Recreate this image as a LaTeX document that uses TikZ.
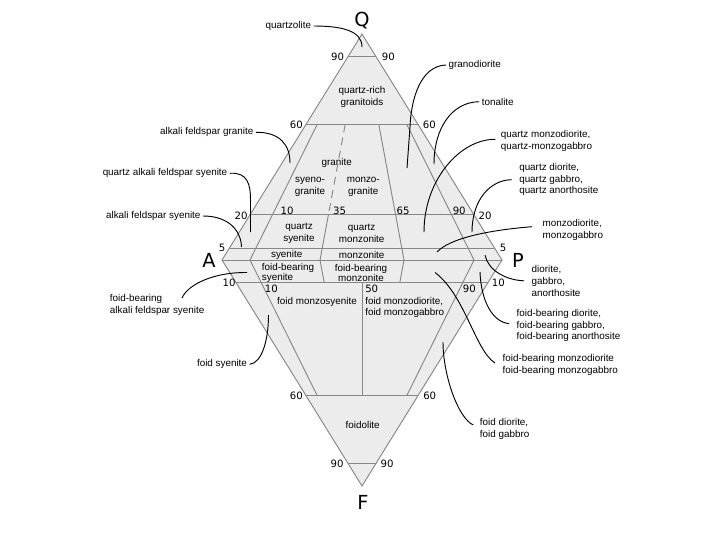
\documentclass[tikz,border=0pt]{standalone}
\usepackage{fontspec}
\setmainfont{Liberation Sans}
\newfontfamily\numfont{DejaVu Sans}
\usetikzlibrary{calc}
\definecolor{fillg}{RGB}{236,236,236}
\definecolor{lineg}{RGB}{135,135,135}
\begin{document}
\begin{tikzpicture}[x=0.75pt,y=-0.75pt,
  grid/.style={draw=lineg, line width=0.7pt},
  lead/.style={draw=black, line width=0.7pt},
  lab/.style={font=\fontsize{7.4}{8.8}\selectfont, inner sep=0pt, outer sep=2pt},
  inlab/.style={font=\fontsize{7.4}{8.8}\selectfont, inner sep=0pt, align=center},
  num/.style={font=\numfont\fontsize{7.6}{8}\selectfont, inner sep=0pt},
  vtx/.style={font=\numfont\fontsize{14.5}{15}\selectfont, inner sep=0pt}]
\useasboundingbox (0,0) rectangle (720,540);
\coordinate (Q) at (362,34);
\coordinate (A) at (222,260);
\coordinate (P) at (502,260);
\coordinate (F) at (362,486);
% fill
\fill[fillg] (Q) -- (P) -- (F) -- (A) -- cycle;
% horizontal lines
\draw[grid] (barycentric cs:Q=0.9,A=0.1) -- (barycentric cs:Q=0.9,P=0.1);
\draw[grid] (barycentric cs:Q=0.6,A=0.4) -- (barycentric cs:Q=0.6,P=0.4);
\draw[grid] (barycentric cs:Q=0.2,A=0.8) -- (barycentric cs:Q=0.2,P=0.8);
\draw[grid] (barycentric cs:Q=0.05,A=0.95) -- (barycentric cs:Q=0.05,P=0.95);
\draw[grid] (A) -- (P);
\draw[grid] (barycentric cs:F=0.1,A=0.9) -- (barycentric cs:F=0.1,P=0.9);
\draw[grid] (barycentric cs:F=0.6,A=0.4) -- (barycentric cs:F=0.6,P=0.4);
\draw[grid] (barycentric cs:F=0.9,A=0.1) -- (barycentric cs:F=0.9,P=0.1);
% radial lines, Q triangle
\draw[grid] (barycentric cs:Q=0.6,A=0.36,P=0.04) -- (barycentric cs:A=0.9,P=0.1);
\draw[grid, dash pattern=on 6pt off 4pt] (barycentric cs:Q=0.6,A=0.26,P=0.14) -- (barycentric cs:Q=0.2,A=0.52,P=0.28);
\draw[grid] (barycentric cs:Q=0.2,A=0.52,P=0.28) -- (barycentric cs:A=0.65,P=0.35);
\draw[grid] (barycentric cs:Q=0.6,A=0.14,P=0.26) -- (barycentric cs:A=0.35,P=0.65);
\draw[grid] (barycentric cs:Q=0.6,A=0.04,P=0.36) -- (barycentric cs:A=0.1,P=0.9);
% radial lines, F triangle
\draw[grid] (barycentric cs:A=0.9,P=0.1) -- (barycentric cs:F=0.6,A=0.36,P=0.04);
\draw[grid] (barycentric cs:A=0.65,P=0.35) -- (barycentric cs:F=0.1,A=0.585,P=0.315);
\draw[grid] (barycentric cs:A=0.35,P=0.65) -- (barycentric cs:F=0.1,A=0.315,P=0.585);
\draw[grid] (barycentric cs:A=0.1,P=0.9) -- (barycentric cs:F=0.6,A=0.04,P=0.36);
\draw[grid] (barycentric cs:F=0.1,A=0.45,P=0.45) -- (barycentric cs:F=0.6,A=0.2,P=0.2);
% outline
\draw[grid] (Q) -- (P) -- (F) -- (A) -- cycle;

% vertex letters
\node[vtx] (vQ) at (362,21) {Q};
\node[vtx] (vA) at (209,260.5) {A};
\node[vtx] (vP) at (518,260) {P};
\node[vtx] (vF) at (363,502.5) {F};

% numbers
\node[num] (n1) at (337.5,57) {90};
\node[num] (n2) at (388.3,57) {90};
\node[num] (n3) at (296.3,124.5) {60};
\node[num] (n4) at (429.3,124.5) {60};
\node[num] (n5) at (241,215.5) {20};
\node[num] (n6) at (485,215.5) {20};
\node[num] (n7) at (287,210.8) {10};
\node[num] (n8) at (339.5,210.8) {35};
\node[num] (n9) at (403,210.8) {65};
\node[num] (n10) at (459.2,210.8) {90};
\node[num] (n11) at (222,248.3) {5};
\node[num] (n12) at (503,248.3) {5};
\node[num] (n13) at (229,283) {10};
\node[num] (n14) at (498.3,283) {10};
\node[num] (n15) at (271.3,288.7) {10};
\node[num] (n16) at (371.7,288.7) {50};
\node[num] (n17) at (469.3,288.7) {90};
\node[num] (n18) at (296.3,395.5) {60};
\node[num] (n19) at (429.7,395.5) {60};
\node[num] (n20) at (337,463.7) {90};
\node[num] (n21) at (387,463.7) {90};

% inner labels
\node[inlab] (i1) at (362,96.7) {quartz-rich\\granitoids};
\node[inlab] (i2) at (336.7,162.7) {granite};
\node[inlab] (i3) at (310,187) {syeno-\\granite};
\node[inlab] (i4) at (363.3,187) {monzo-\\granite};
\node[inlab] (i5) at (299,233) {quartz\\syenite};
\node[inlab] (i6) at (361.7,233) {quartz\\monzonite};
\node[inlab] (i7) at (286.7,255) {syenite};
\node[inlab] (i8) at (361.7,255) {monzonite};
\node[inlab, align=left, anchor=west, font=\fontsize{7.4}{7.6}\selectfont] (i9) at (261.7,273) {foid-bearing\\syenite};
\node[inlab, font=\fontsize{7.4}{7.6}\selectfont] (i10) at (361,273) {foid-bearing\\monzonite};
\node[inlab] (i11) at (317,301.7) {foid monzosyenite};
\node[inlab, align=left, anchor=west] (i12) at (365,307.5) {foid monzodiorite,\\foid monzogabbro};
\node[inlab] (i13) at (362.7,425) {foidolite};

% outer labels
\node[lab] (l1) at (288.3,26) {quartzolite};
\node[lab] (l2) at (206.7,132.3) {alkali feldspar granite};
\node[lab] (l3) at (165,173.3) {quartz alkali feldspar syenite};
\node[lab] (l4) at (153.3,216) {alkali feldspar syenite};
\node[lab, align=left, anchor=west] (l5) at (107.3,305) {foid-bearing\\alkali feldspar syenite};
\node[lab] (l6) at (222,364.3) {foid syenite};
\node[lab] (l7) at (474.7,65) {granodiorite};
\node[lab] (l8) at (497.8,101.7) {tonalite};
\node[lab, align=left, anchor=west] (l9) at (498.3,141.3) {quartz monzodiorite,\\quartz-monzogabbro};
\node[lab, align=left, anchor=west] (l10) at (516.6,179.7) {quartz diorite,\\quartz gabbro,\\quartz anorthosite};
\node[lab, align=left, anchor=west] (l11) at (540,229.7) {monzodiorite,\\monzogabbro};
\node[lab, align=left, anchor=west] (l12) at (529,280.8) {diorite,\\gabbro,\\anorthosite};
\node[lab, align=left, anchor=west] (l13) at (514,325.6) {foid-bearing diorite,\\foid-bearing gabbro,\\foid-bearing anorthosite};
\node[lab, align=left, anchor=west] (l14) at (500,365) {foid-bearing monzodiorite\\foid-bearing monzogabbro};
\node[lab, align=left, anchor=west] (l15) at (477.3,429) {foid diorite,\\foid gabbro};

% leader end points
\coordinate (e1) at (362,47);
\coordinate (e2) at (290,163);
\coordinate (e3) at (250.5,232);
\coordinate (e4) at (241.5,247);
\coordinate (s5) at (182,298);
\coordinate (e5) at (247,272.5);
\coordinate (e6) at (268.5,315);
\coordinate (e7) at (407,168);
\coordinate (e8) at (434,164);
\coordinate (e9) at (424,232);
\coordinate (e10) at (472,232);
\coordinate (e11) at (437,252);
\coordinate (e12) at (485,255);
\coordinate (e13) at (480,272);
\coordinate (e14) at (435,272.5);
\coordinate (e15) at (443,342);

% leaders
\draw[lead] (l1.east) .. controls (340,26) and (362,30) .. (e1);
\draw[lead] (l2.east) .. controls (280,132) and (290,145) .. (e2);
\draw[lead] (l3.east) .. controls (248,172) and (250.5,185) .. (250.5,200) -- (e3);
\draw[lead] (l4.east) .. controls (228,216) and (241,230) .. (e4);
\draw[lead] (s5) .. controls (188,284) and (215,272) .. (e5);
\draw[lead] (l6.east) .. controls (262,363) and (268.5,340) .. (e6);
\draw[lead] (l7.west) .. controls (420,66) and (411,100) .. (410,127) -- (e7);
\draw[lead] (l8.west) .. controls (452,102) and (434,128) .. (e8);
\draw[lead] ($(l9.west)+(-3,-2)$) .. controls (460,139) and (424,180) .. (e9);
\draw[lead] ($(l10.west)+(-5,0)$) .. controls (490,180) and (472,200) .. (e10);
\draw[lead] ($(l11.west)+(-8,-3)$) .. controls (490,230) and (450,238) .. (e11);
\draw[lead] ($(l12.west)+(-5,0)$) .. controls (505,280) and (488,270) .. (e12);
\draw[lead] ($(l13.west)+(-5,-2)$) .. controls (492,322) and (481,300) .. (e13);
\draw[lead] ($(l14.west)+(-5,-2)$) .. controls (475,350) and (465,295) .. (e14);
\draw[lead] ($(l15.west)+(-4,-4)$) .. controls (458,418) and (443,375) .. (e15);
\end{tikzpicture}
\end{document}
